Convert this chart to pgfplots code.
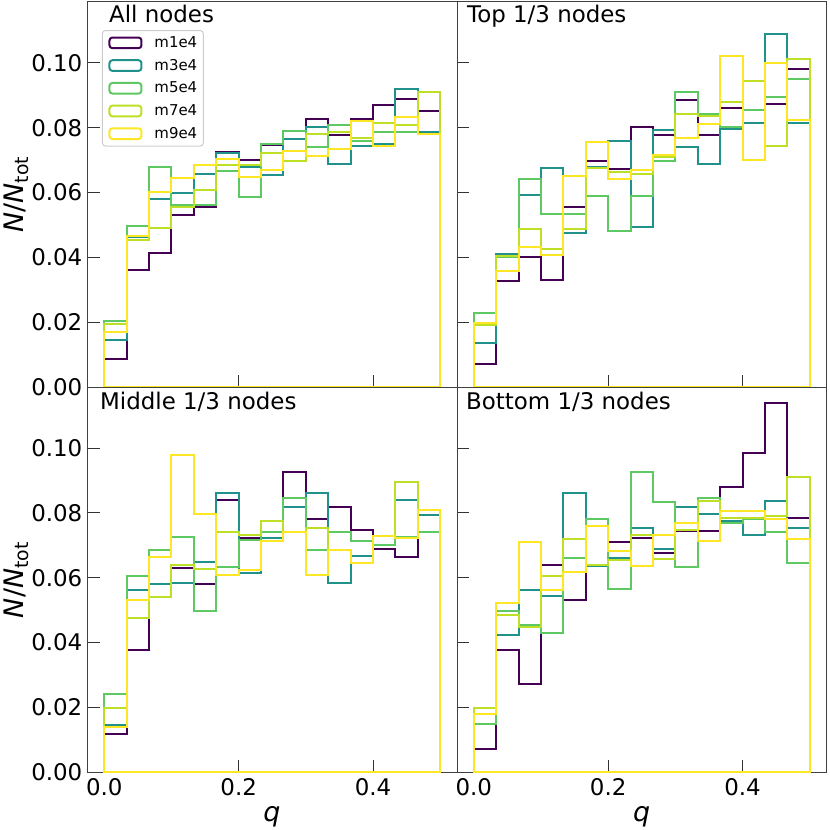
\documentclass[border=0pt]{standalone}
\usepackage{fontspec}
\setmainfont{DejaVu Sans}
\usepackage{pgfplots}
\pgfplotsset{compat=1.18}
\usepackage{pgfplotstable}

\definecolor{c1}{HTML}{440154}
\definecolor{c2}{HTML}{21918C}
\definecolor{c3}{HTML}{5EC962}
\definecolor{c4}{HTML}{BDDF26}
\definecolor{c5}{HTML}{FDE725}

% All nodes
\pgfplotstableread{
x m1 m3 m5 m7 m9
0.000000 0.0086 0.0144 0.0203 0.0195 0.0171
0.033333 0.0361 0.0464 0.0498 0.0453 0.0467
0.066667 0.0415 0.0579 0.0679 0.0491 0.0601
0.100000 0.0531 0.0599 0.0562 0.0554 0.0645
0.133333 0.0554 0.0658 0.0562 0.0609 0.0686
0.166667 0.0725 0.0722 0.0667 0.0684 0.0704
0.200000 0.0700 0.0678 0.0586 0.0684 0.0649
0.233333 0.0746 0.0655 0.0750 0.0721 0.0671
0.266667 0.0791 0.0764 0.0790 0.0698 0.0727
0.300000 0.0827 0.0803 0.0741 0.0780 0.0712
0.333333 0.0779 0.0688 0.0809 0.0787 0.0733
0.366667 0.0826 0.0745 0.0759 0.0769 0.0821
0.400000 0.0870 0.0749 0.0786 0.0815 0.0745
0.433333 0.0889 0.0920 0.0787 0.0809 0.0832
0.466667 0.0850 0.0787 0.0780 0.0911 0.0782
0.500000 0.0850 0.0787 0.0780 0.0911 0.0782
}\TL
% Top 1/3 nodes
\pgfplotstableread{
x m1 m3 m5 m7 m9
0.000000 0.0070 0.0137 0.0228 0.0193 0.0197
0.033333 0.0328 0.0411 0.0400 0.0403 0.0357
0.066667 0.0400 0.0591 0.0641 0.0488 0.0433
0.100000 0.0330 0.0676 0.0535 0.0426 0.0406
0.133333 0.0554 0.0474 0.0535 0.0488 0.0652
0.166667 0.0696 0.0680 0.0589 0.0675 0.0755
0.200000 0.0672 0.0760 0.0482 0.0662 0.0643
0.233333 0.0802 0.0495 0.0589 0.0658 0.0669
0.266667 0.0779 0.0793 0.0697 0.0710 0.0716
0.300000 0.0884 0.0741 0.0910 0.0843 0.0767
0.333333 0.0779 0.0687 0.0841 0.0836 0.0812
0.366667 0.0862 0.0795 0.0802 0.0879 0.1021
0.400000 0.0944 0.0813 0.0856 0.0944 0.0700
0.433333 0.0874 0.1089 0.0896 0.0744 0.1001
0.466667 0.0980 0.0815 0.0950 0.1013 0.0823
0.500000 0.0980 0.0815 0.0950 0.1013 0.0823
}\TR
% Middle 1/3 nodes
\pgfplotstableread{
x m1 m3 m5 m7 m9
0.000000 0.0118 0.0146 0.0242 0.0198 0.0141
0.033333 0.0378 0.0563 0.0604 0.0476 0.0530
0.066667 0.0582 0.0582 0.0687 0.0540 0.0664
0.100000 0.0629 0.0584 0.0726 0.0640 0.0978
0.133333 0.0580 0.0648 0.0496 0.0627 0.0798
0.166667 0.0841 0.0862 0.0632 0.0740 0.0607
0.200000 0.0723 0.0616 0.0715 0.0733 0.0624
0.233333 0.0723 0.0723 0.0740 0.0776 0.0712
0.266667 0.0926 0.0817 0.0847 0.0740 0.0740
0.300000 0.0782 0.0861 0.0687 0.0754 0.0607
0.333333 0.0817 0.0584 0.0740 0.0685 0.0685
0.366667 0.0746 0.0668 0.0714 0.0647 0.0647
0.400000 0.0689 0.0702 0.0702 0.0730 0.0730
0.433333 0.0664 0.0839 0.0726 0.0896 0.0723
0.466667 0.0792 0.0795 0.0740 0.0810 0.0810
0.500000 0.0792 0.0795 0.0740 0.0810 0.0810
}\BL
% Bottom 1/3 nodes
\pgfplotstableread{
x m1 m3 m5 m7 m9
0.000000 0.0071 0.0148 0.0150 0.0198 0.0180
0.033333 0.0378 0.0424 0.0496 0.0484 0.0522
0.066667 0.0273 0.0563 0.0455 0.0448 0.0710
0.100000 0.0639 0.0543 0.0431 0.0605 0.0561
0.133333 0.0532 0.0861 0.0660 0.0720 0.0617
0.166667 0.0640 0.0637 0.0780 0.0640 0.0760
0.200000 0.0710 0.0661 0.0566 0.0654 0.0684
0.233333 0.0723 0.0754 0.0927 0.0733 0.0635
0.266667 0.0675 0.0690 0.0834 0.0657 0.0731
0.300000 0.0745 0.0818 0.0632 0.0748 0.0769
0.333333 0.0745 0.0797 0.0846 0.0838 0.0712
0.366667 0.0879 0.0776 0.0769 0.0783 0.0807
0.400000 0.0985 0.0733 0.0780 0.0783 0.0807
0.433333 0.1138 0.0838 0.0741 0.0790 0.0780
0.466667 0.0783 0.0754 0.0646 0.0911 0.0721
0.500000 0.0783 0.0754 0.0646 0.0911 0.0721
}\BR

\pgfplotsset{
  panel/.style={
    width=369.5bp, height=385.2bp, scale only axis,
    xmin=-0.025, xmax=0.525, ymin=0, ymax=0.1188,
    xtick={0,0.2,0.4}, ytick={0,0.02,0.04,0.06,0.08,0.1},
    tick pos=left, tick align=inside,
    major tick length=12bp,
    axis line style={black!75, line width=1bp},
    every tick/.style={black!80, line width=1bp},
    scaled ticks=false,
    /pgf/number format/assume math mode=true,
    tick label style={font=\fontsize{23}{27}\selectfont, inner sep=0pt},
    xticklabel style={/pgf/number format/fixed, /pgf/number format/fixed zerofill, /pgf/number format/precision=1, yshift=-5.5bp},
    yticklabel style={/pgf/number format/fixed, /pgf/number format/fixed zerofill, /pgf/number format/precision=2, xshift=-5bp},
    clip=true,
    legend image code/.code={\draw[#1, line width=2bp] (0bp,-5.35bp) rectangle (32bp,5.35bp);},
  },
  hs/.style={const plot mark left, line width=2bp, line join=miter},
}

\newcommand{\hists}[1]{%
  \addplot[hs, c1] table[x=x, y=m1]{#1} \closedcycle;
  \addplot[hs, c2] table[x=x, y=m3]{#1} \closedcycle;
  \addplot[hs, c3] table[x=x, y=m5]{#1} \closedcycle;
  \addplot[hs, c4] table[x=x, y=m7]{#1} \closedcycle;
  \addplot[hs, c5] table[x=x, y=m9]{#1} \closedcycle;
}

\begin{document}
\begin{tikzpicture}
\useasboundingbox (0,0) rectangle (830bp,830bp);

\begin{axis}[panel, at={(87.5bp,442.9bp)}, anchor=south west, xticklabels={},
  legend style={at={(0.0392,0.927)}, anchor=north west, draw=black!20, line width=1bp,
    rounded corners=3bp, fill=white, font=\fontsize{15}{18}\selectfont,
    inner xsep=6bp, inner ysep=6bp, row sep=10bp, column sep=12bp,
    nodes={inner sep=0pt}},
  legend cell align=left]
\hists{\TL}
\legend{m1e4,m3e4,m5e4,m7e4,m9e4}
\end{axis}

\begin{axis}[panel, at={(457bp,442.9bp)}, anchor=south west, xticklabels={}, yticklabels={}]
\hists{\TR}
\end{axis}

\begin{axis}[panel, at={(87.5bp,57.7bp)}, anchor=south west]
\hists{\BL}
\end{axis}

\begin{axis}[panel, at={(457bp,57.7bp)}, anchor=south west, yticklabels={}]
\hists{\BR}
\end{axis}

\node[anchor=base west, font=\fontsize{23}{27}\selectfont, inner sep=0pt] at (109bp,807.3bp) {All nodes};
\node[anchor=base west, font=\fontsize{23}{27}\selectfont, inner sep=0pt] at (467bp,807.3bp) {Top 1/3 nodes};
\node[anchor=base west, font=\fontsize{23}{27}\selectfont, inner sep=0pt] at (100bp,420.7bp) {Middle 1/3 nodes};
\node[anchor=base west, font=\fontsize{23}{27}\selectfont, inner sep=0pt] at (466bp,420.7bp) {Bottom 1/3 nodes};

\node[rotate=90, font=\fontsize{27}{32}\selectfont, inner sep=0pt] at (16bp,635.5bp) {\textit{N}/\textit{N}\textsubscript{tot}};
\node[rotate=90, font=\fontsize{27}{32}\selectfont, inner sep=0pt] at (16bp,250bp) {\textit{N}/\textit{N}\textsubscript{tot}};
\node[anchor=base, font=\fontsize{27}{32}\selectfont, inner sep=0pt] at (272bp,8.2bp) {\textit{q}};
\node[anchor=base, font=\fontsize{27}{32}\selectfont, inner sep=0pt] at (641.7bp,8.2bp) {\textit{q}};
\end{tikzpicture}
\end{document}
